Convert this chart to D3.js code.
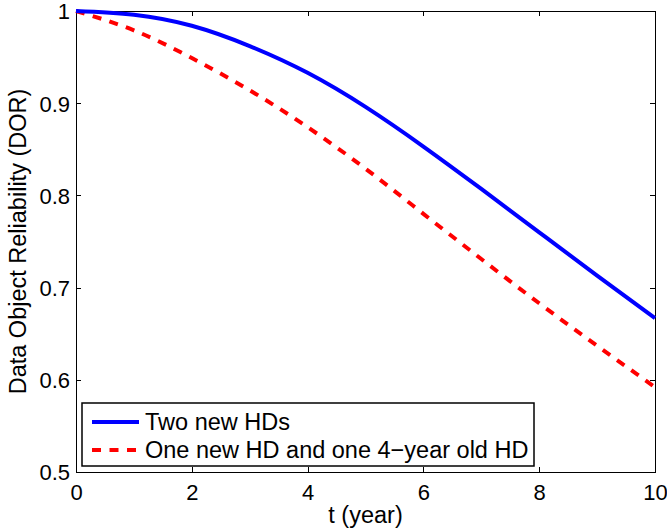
<!DOCTYPE html>
<html>
<head>
<meta charset="utf-8">
<script src="https://d3js.org/d3.v7.min.js"></script>
<style>
  body { margin: 0; background: #fff; }
  svg text { font-family: 'Liberation Sans', Arial, sans-serif; fill: #000; }
  .tick line { stroke: #000; }
</style>
</head>
<body>
<div id="chart"></div>
<script>
// years
var years = [0, 1, 2, 3, 4, 5, 6, 7, 8, 9, 10];
// Two new HDs
var twoNew = [1.000, 0.996, 0.984, 0.962, 0.933, 0.896, 0.853, 0.807, 0.760, 0.713, 0.667];
// One new HD and one 4-year old HD
var oneOld = [1.000, 0.979, 0.949, 0.914, 0.874, 0.829, 0.780, 0.731, 0.683, 0.637, 0.592];

var xTicks = [0, 2, 4, 6, 8, 10];
var yTicks = [0.5, 0.6, 0.7, 0.8, 0.9, 1];
var seriesNames = ["Two new HDs", "One new HD and one 4\u2212year old HD"];

var W = 667, H = 531;
var margin = {top: 11, right: 12, bottom: 59, left: 76};
var w = W - margin.left - margin.right,
    h = H - margin.top - margin.bottom;
var fs = 23.5;   // labels and legend
var tfs = 22;    // tick labels

var svg = d3.select("#chart").append("svg")
  .attr("width", W).attr("height", H);

var g = svg.append("g")
  .attr("transform", "translate(" + margin.left + "," + margin.top + ")");

var x = d3.scaleLinear().domain([0, 10]).range([0, w]);
var y = d3.scaleLinear().domain([0.5, 1]).range([h, 0]);

// frame
g.append("rect")
  .attr("width", w).attr("height", h)
  .attr("fill", "#fff").attr("stroke", "#000").attr("stroke-width", 1)
  .attr("shape-rendering", "crispEdges");

var tickLen = 5;

// bottom axis, ticks inward
var xAxis = g.append("g")
  .attr("transform", "translate(0," + h + ")")
  .call(d3.axisBottom(x).tickValues(xTicks).tickSize(-tickLen).tickPadding(12).tickFormat(d3.format("d")));
xAxis.select(".domain").remove();
xAxis.selectAll("text").attr("font-size", tfs).attr("dy", "0.71em");

// top mirrored ticks
var xTop = g.append("g")
  .call(d3.axisTop(x).tickValues(xTicks).tickSize(-tickLen).tickFormat(""));
xTop.select(".domain").remove();

// left axis
var yAxis = g.append("g")
  .call(d3.axisLeft(y).tickValues(yTicks).tickSize(-tickLen).tickPadding(6).tickFormat(function(d) { return d === 1 ? "1" : d3.format(".1f")(d); }));
yAxis.select(".domain").remove();
yAxis.selectAll("text").attr("font-size", tfs).attr("dy", "0.36em");

// right mirrored ticks
var yRight = g.append("g")
  .attr("transform", "translate(" + w + ",0)")
  .call(d3.axisRight(y).tickValues(yTicks).tickSize(-tickLen).tickFormat(""));
yRight.select(".domain").remove();

g.selectAll(".tick line").attr("shape-rendering", "crispEdges");

// lines
var line = d3.line()
  .x(function(d) { return x(d[0]); })
  .y(function(d) { return y(d[1]); })
  .curve(d3.curveNatural);

g.append("path")
  .datum(years.map(function(t, i) { return [t, oneOld[i]]; }))
  .attr("d", line)
  .attr("fill", "none")
  .attr("stroke", "#ff0000")
  .attr("stroke-width", 4)
  .attr("stroke-dasharray", "9,8.5");

g.append("path")
  .datum(years.map(function(t, i) { return [t, twoNew[i]]; }))
  .attr("d", line)
  .attr("fill", "none")
  .attr("stroke", "#0000ff")
  .attr("stroke-width", 4);

// legend
var lg = svg.append("g").attr("transform", "translate(82,403)");
lg.append("rect")
  .attr("width", 452).attr("height", 63)
  .attr("fill", "#fff").attr("stroke", "#000").attr("stroke-width", 1.5);

var rows = [
  {name: seriesNames[0], color: "#0000ff", dash: null, y: 19},
  {name: seriesNames[1], color: "#ff0000", dash: "9,8.5", y: 47}
];
rows.forEach(function(r) {
  lg.append("line")
    .attr("x1", 10).attr("x2", 57).attr("y1", r.y).attr("y2", r.y)
    .attr("stroke", r.color).attr("stroke-width", 4)
    .attr("stroke-dasharray", r.dash);
  lg.append("text")
    .attr("x", 63).attr("y", r.y).attr("dy", "0.36em")
    .attr("font-size", fs)
    .text(r.name);
});

// axis labels
svg.append("text")
  .attr("x", margin.left + w / 2).attr("y", 523)
  .attr("text-anchor", "middle").attr("font-size", fs)
  .text("t (year)");

svg.append("text")
  .attr("transform", "translate(26," + (margin.top + h / 2) + ") rotate(-90)")
  .attr("text-anchor", "middle").attr("font-size", fs)
  .text("Data Object Reliability (DOR)");
</script>
</body>
</html>
